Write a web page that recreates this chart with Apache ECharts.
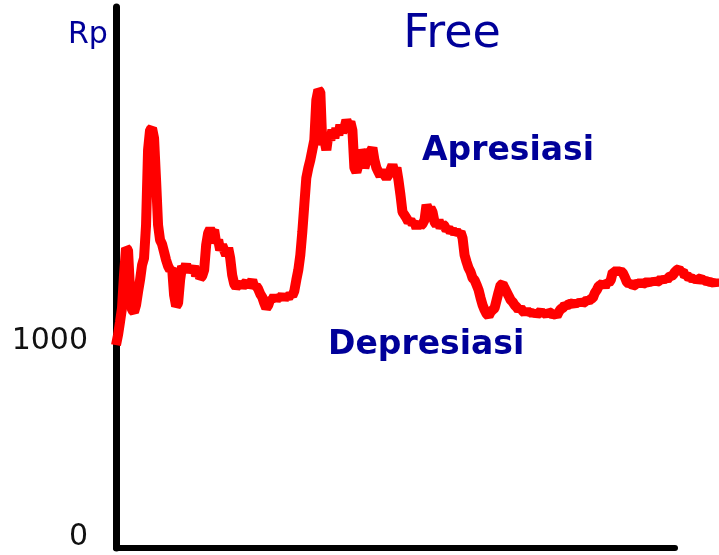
<!DOCTYPE html>
<html>
<head>
<meta charset="utf-8">
<script src="https://cdn.jsdelivr.net/npm/echarts@6/dist/echarts.min.js"></script>
<style>
html,body{margin:0;padding:0;background:#fff;}
#chart{width:719px;height:555px;}
</style>
</head>
<body>
<div id="chart"></div>
<script>
// Exchange rate (Rp), one reading every step of the time axis
var rateValues = [
979,1030,1097,1168,1336,1474,1464,1260,1158,1148,1183,1250,1311,1387,1423,1591,1974,2076,2086,2035,
1821,1591,1515,1494,1454,1413,1382,1362,1372,1234,1178,1193,1311,1382,1362,1392,1352,1372,1357,1382,
1331,1362,1321,1331,1362,1489,1551,1571,1551,1566,1500,1515,1464,1489,1464,1438,1474,1423,1336,1291,
1275,1286,1296,1275,1291,1301,1281,1291,1311,1275,1281,1265,1240,1224,1193,1168,1183,1214,1209,1230,
1209,1224,1219,1234,1214,1230,1219,1240,1230,1255,1311,1362,1438,1556,1694,1832,1883,1923,1974,2025,
2230,2281,2270,2000,2025,1974,2051,2025,2076,2035,2086,2051,2102,2066,2086,2127,2102,2117,2076,1883,
1862,1898,1974,1949,1883,1923,1974,1964,1985,1923,1883,1862,1842,1872,1847,1832,1847,1872,1898,1862,
1883,1821,1745,1658,1643,1627,1607,1617,1597,1607,1576,1607,1587,1597,1617,1694,1668,1678,1658,1607,
1591,1617,1576,1597,1587,1566,1576,1556,1566,1551,1561,1546,1556,1525,1438,1403,1372,1352,1321,1311,
1286,1260,1219,1183,1158,1138,1128,1148,1158,1168,1209,1250,1286,1291,1270,1250,1230,1209,1199,1183,
1173,1158,1168,1153,1143,1158,1143,1148,1138,1148,1133,1143,1153,1138,1143,1133,1148,1143,1133,1138,
1128,1148,1163,1168,1183,1178,1189,1189,1193,1183,1199,1189,1204,1193,1199,1209,1204,1214,1219,1245,
1260,1281,1286,1296,1275,1301,1296,1311,1352,1352,1362,1352,1357,1347,1326,1301,1291,1296,1281,1286,
1296,1291,1301,1291,1296,1301,1296,1306,1296,1311,1301,1306,1316,1306,1321,1311,1326,1331,1336,1352,
1362,1367,1352,1357,1331,1336,1321,1326,1311,1321,1306,1316,1321,1306,1311,1301,1306,1296,1301,1291,
1306,1286
];
var yTickValues = [0, 1000];
var yMin = -56, yMax = 2704;
var xAxisEnd = 279;           // where the drawn time axis stops
var xDataEnd = rateValues.length - 1;
var titleText = 'Free';
var unitText = 'Rp';
var upLabel = 'Apresiasi';
var downLabel = 'Depresiasi';

var seriesData = rateValues.map(function (v, i) { return [i, v]; });
var navy = '#000099';
var font = 'DejaVu Sans';

var chart = echarts.init(document.getElementById('chart'), null, {renderer: 'canvas'});
chart.setOption({
  animation: false,
  backgroundColor: '#fff',
  title: {
    text: titleText,
    left: 447, top: 7,
    textAlign: 'center',
    textStyle: {fontFamily: font, fontSize: 46, fontWeight: 'normal', color: navy}
  },
  grid: [
    {left: 116, right: 0, top: 7, bottom: 7, containLabel: false},
    {left: 116, right: 44, top: 7, bottom: 7, containLabel: false}
  ],
  xAxis: [
    {
      gridIndex: 0, type: 'value', min: 0, max: xDataEnd,
      axisLine: {show: false}, axisTick: {show: false}, axisLabel: {show: false}, splitLine: {show: false}
    },
    {
      gridIndex: 1, type: 'value', min: 0, max: xAxisEnd,
      axisLine: {show: true, onZero: false, lineStyle: {color: '#000', width: 6}},
      axisTick: {show: false}, axisLabel: {show: false}, splitLine: {show: false}
    }
  ],
  yAxis: [
    {
      gridIndex: 0, type: 'value', min: yMin, max: yMax,
      axisLine: {show: true, lineStyle: {color: '#000', width: 7}},
      axisTick: {show: false},
      splitLine: {show: false},
      axisLabel: {
        customValues: yTickValues,
        formatter: function (v) { return String(v); },
        margin: 28,
        fontFamily: font, fontSize: 30, color: '#111'
      }
    },
    {
      gridIndex: 1, type: 'value', min: yMin, max: yMax,
      axisLine: {show: false}, axisTick: {show: false}, axisLabel: {show: false}, splitLine: {show: false}
    }
  ],
  graphic: [
    {type: 'text', left: 68, top: 20, style: {text: unitText, font: 'normal 30px "DejaVu Sans"', fill: navy}},
    {type: 'text', left: 422, top: 135, style: {text: upLabel, font: 'bold 33px "DejaVu Sans"', fill: navy}},
    {type: 'text', left: 328, top: 329, style: {text: downLabel, font: 'bold 33px "DejaVu Sans"', fill: navy}}
  ],
  series: [{
    type: 'line',
    xAxisIndex: 0, yAxisIndex: 0,
    data: seriesData,
    symbol: 'none',
    lineStyle: {color: '#ff0000', width: 10, cap: 'butt', join: 'bevel'},
    z: 3
  }]
});
</script>
</body>
</html>
